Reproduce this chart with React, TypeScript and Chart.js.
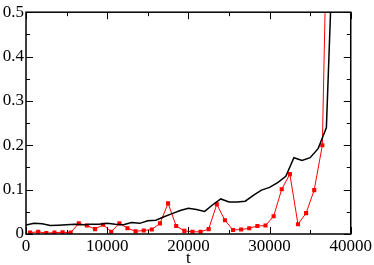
import React, { useEffect, useRef } from "react";
import { Chart, registerables } from "chart.js";

Chart.register(...registerables);

// black curve: t and value
const blackT = [0, 1000, 2000, 3000, 4000, 5000, 6000, 7000, 8000, 9000, 10000, 11000, 12000, 13000, 14000, 15000, 16000, 17000, 18000, 19000, 20000, 21000, 22000, 23000, 24000, 25000, 26000, 27000, 28000, 29000, 30000, 31000, 32000, 33000, 34000, 35000, 36000, 37000, 38000];
const blackV = [0.020, 0.024, 0.023, 0.019, 0.020, 0.021, 0.022, 0.021, 0.022, 0.022, 0.024, 0.022, 0.021, 0.026, 0.024, 0.030, 0.031, 0.039, 0.046, 0.053, 0.058, 0.055, 0.051, 0.066, 0.079, 0.072, 0.072, 0.074, 0.087, 0.099, 0.105, 0.116, 0.130, 0.172, 0.166, 0.172, 0.193, 0.240, 0.75];

// red curve with square markers
const redT = [500, 1500, 2500, 3500, 4500, 5500, 6500, 7500, 8500, 9500, 10500, 11500, 12500, 13500, 14500, 15500, 16500, 17500, 18500, 19500, 20500, 21500, 22500, 23500, 24500, 25500, 26500, 27500, 28500, 29500, 30500, 31500, 32500, 33500, 34500, 35500, 36500, 37500];
const redV = [0.003, 0.005, 0.002, 0.003, 0.004, 0.003, 0.024, 0.019, 0.011, 0.021, 0.005, 0.024, 0.013, 0.006, 0.008, 0.010, 0.024, 0.069, 0.018, 0.007, 0.005, 0.005, 0.011, 0.067, 0.031, 0.009, 0.010, 0.013, 0.018, 0.019, 0.040, 0.101, 0.135, 0.022, 0.047, 0.099, 0.200, 1.1];

const xTicks = [0, 10000, 20000, 30000, 40000];
const yTicks = [0, 0.1, 0.2, 0.3, 0.4, 0.5];
const xLabel = "t";

const FONT = "'Liberation Serif', 'Times New Roman', serif";

const framePlugin = {
  id: "frame",
  afterDraw(chart: any) {
    const { ctx, chartArea } = chart;
    const xs = chart.scales.x;
    const ys = chart.scales.y;
    const { left, right, top, bottom } = chartArea;
    ctx.save();
    ctx.strokeStyle = "#000";
    ctx.lineWidth = 1.5;
    ctx.strokeRect(left, top, right - left, bottom - top);
    ctx.lineWidth = 1;
    for (let v = 0; v <= 40000; v += 5000) {
      const px = Math.round(xs.getPixelForValue(v)) + 0.5;
      const len = v % 10000 === 0 ? 7 : 4;
      ctx.beginPath();
      ctx.moveTo(px, bottom);
      ctx.lineTo(px, bottom - len);
      ctx.moveTo(px, top);
      ctx.lineTo(px, top + len);
      ctx.stroke();
    }
    for (let i = 0; i <= 10; i++) {
      const v = i * 0.05;
      const py = Math.round(ys.getPixelForValue(v)) + 0.5;
      const len = i % 2 === 0 ? 7 : 4;
      ctx.beginPath();
      ctx.moveTo(left, py);
      ctx.lineTo(left + len, py);
      ctx.moveTo(right, py);
      ctx.lineTo(right - len, py);
      ctx.stroke();
    }
    ctx.restore();
  },
};

export default function App() {
  const ref = useRef<HTMLCanvasElement | null>(null);
  useEffect(() => {
    let chart: any = null;
    let cancelled = false;
    const build = () => {
      if (cancelled || !ref.current) return;
      chart = new Chart(ref.current, {
        type: "line",
        data: {
          datasets: [
            {
              data: blackT.map((t, i) => ({ x: t, y: blackV[i] })),
              borderColor: "#000000",
              borderWidth: 1.5,
              pointRadius: 0,
              tension: 0,
            },
            {
              data: redT.map((t, i) => ({ x: t, y: redV[i] })),
              borderColor: "#ff0000",
              backgroundColor: "#ff0000",
              borderWidth: 1,
              pointStyle: "rect",
              pointRadius: 2.9,
              pointBorderWidth: 0,
              pointBackgroundColor: "#ff0000",
              tension: 0,
            },
          ],
        },
        options: {
          responsive: false,
          animation: false,
          devicePixelRatio: 1,
          layout: { padding: { left: 0, right: 23, top: 7, bottom: 0 } },
          plugins: { legend: { display: false }, tooltip: { enabled: false } },
          scales: {
            x: {
              type: "linear",
              min: 0,
              max: 40000,
              afterFit(scale: any) {
                scale.height = 31;
              },
              afterBuildTicks(scale: any) {
                scale.ticks = xTicks.map((v) => ({ value: v }));
              },
              grid: { display: false, drawTicks: false },
              border: { display: false },
              ticks: {
                color: "#000",
                font: { family: FONT, size: 17 },
                padding: 2,
                maxRotation: 0,
                autoSkip: false,
                callback: (v: any) => String(v),
              },
              title: {
                display: true,
                text: xLabel,
                color: "#000",
                font: { family: FONT, size: 17, lineHeight: 0.8 },
                padding: { top: 0, bottom: 0 },
              },
            },
            y: {
              type: "linear",
              min: 0,
              max: 0.5,
              afterFit(scale: any) {
                scale.width = 26;
              },
              afterBuildTicks(scale: any) {
                scale.ticks = yTicks.map((v) => ({ value: v }));
              },
              grid: { display: false, drawTicks: false },
              border: { display: false },
              ticks: {
                color: "#000",
                font: { family: FONT, size: 17 },
                padding: 2,
                autoSkip: false,
                callback: (v: any) => String(Math.round(v * 10) / 10),
              },
            },
          },
        },
        plugins: [framePlugin],
      });
    };
    const fonts: any = (document as any).fonts;
    if (fonts && fonts.load) {
      fonts.load("17px 'Liberation Serif'").then(build, build);
    } else {
      build();
    }
    return () => {
      cancelled = true;
      if (chart) chart.destroy();
    };
  }, []);
  return (
    <div style={{ position: "absolute", left: 0, top: 0, width: 374, height: 265, background: "#fff" }}>
      <canvas ref={ref} width={374} height={265} />
    </div>
  );
}
